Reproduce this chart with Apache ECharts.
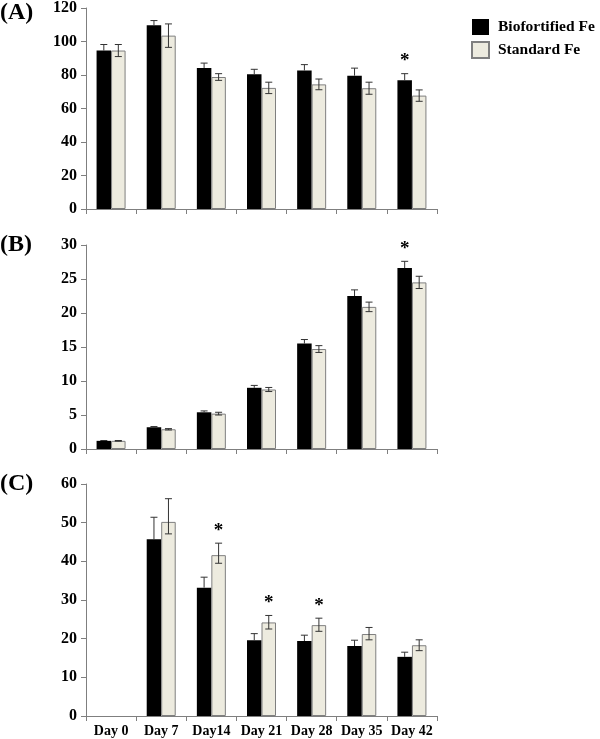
<!DOCTYPE html>
<html>
<head>
<meta charset="utf-8">
<script src="https://cdn.jsdelivr.net/npm/echarts@6/dist/echarts.min.js"></script>
<style>
html,body{margin:0;padding:0;background:#fff;}
#c{width:600px;height:739px;}
</style>
</head>
<body>
<div id="c"></div>
<script>
// ---- data ----
const categories = ['Day 0', 'Day 7', 'Day14', 'Day 21', 'Day 28', 'Day 35', 'Day 42'];
const seriesNames = ['Biofortified Fe', 'Standard Fe'];
const panelLabels = ['(A)', '(B)', '(C)'];

const bioA = [94.6, 109.7, 84.2, 80.4, 82.7, 79.6, 76.9];
const bioAErr = [3.6, 2.8, 2.9, 3.0, 3.5, 4.5, 3.9];
const stdA = [94.6, 103.5, 78.8, 72.3, 74.4, 72.1, 67.7];
const stdAErr = [3.6, 7.0, 2.0, 3.4, 3.2, 3.6, 3.4];

const bioB = [1.2, 3.2, 5.4, 9.0, 15.5, 22.5, 26.6];
const bioBErr = [0.05, 0.1, 0.2, 0.35, 0.6, 0.9, 1.0];
const stdB = [1.2, 2.9, 5.2, 8.75, 14.7, 20.9, 24.5];
const stdBErr = [0.05, 0.1, 0.2, 0.3, 0.5, 0.7, 0.9];

const bioC = [null, 45.7, 33.2, 19.6, 19.4, 18.1, 15.3];
const bioCErr = [null, 5.7, 2.7, 1.7, 1.5, 1.5, 1.2];
const stdC = [null, 50.2, 41.6, 24.2, 23.5, 21.2, 18.3];
const stdCErrUp = [null, 6.0, 3.1, 1.8, 1.8, 1.7, 1.4];
const stdCErrDown = [null, 3.1, 2.1, 1.7, 1.6, 1.5, 1.4];

// significance markers: [category index, series index (0 = Biofortified, 1 = Standard)]
const sigA = [[6, 0]];
const sigB = [[6, 0]];
const sigC = [[2, 1], [3, 1], [4, 1]];

const yMax = [120, 30, 60];
const yInterval = [20, 5, 10];

// ---- chart ----
const FONT = '"Liberation Serif", "Times New Roman", serif';
const BAR_W = 14.5;
const grids = [
  {left: 86, width: 351, top: 7, height: 202},
  {left: 86, width: 351, top: 245, height: 204},
  {left: 86, width: 351, top: 484, height: 232}
];
const labelY = [13, 245, 484];

const panels = [
  {bio: bioA, bioUp: bioAErr, bioDown: bioAErr, std: stdA, stdUp: stdAErr, stdDown: stdAErr, sig: sigA},
  {bio: bioB, bioUp: bioBErr, bioDown: bioBErr, std: stdB, stdUp: stdBErr, stdDown: stdBErr, sig: sigB},
  {bio: bioC, bioUp: bioCErr, bioDown: bioCErr, std: stdC, stdUp: stdCErrUp, stdDown: stdCErrDown, sig: sigC}
];

const xAxes = [], yAxes = [], series = [], graphics = [];
panels.forEach((p, i) => {
  xAxes.push({
    type: 'category', gridIndex: i, data: categories,
    axisLine: {lineStyle: {color: '#7f7f7f', width: 1}},
    axisTick: {show: true, length: 5, lineStyle: {color: '#7f7f7f'}},
    axisLabel: {show: i === 2, interval: 0, color: '#000', fontFamily: FONT, fontWeight: 'bold', fontSize: 14, margin: 8},
    splitLine: {show: false}
  });
  yAxes.push({
    type: 'value', gridIndex: i, min: 0, max: yMax[i], interval: yInterval[i],
    axisLine: {show: true, lineStyle: {color: '#7f7f7f', width: 1}},
    axisTick: {show: true, length: 5, lineStyle: {color: '#7f7f7f'}},
    axisLabel: {color: '#000', fontFamily: FONT, fontWeight: 'bold', fontSize: 16, margin: 9},
    splitLine: {show: false}
  });
  series.push({
    name: seriesNames[0], type: 'bar', xAxisIndex: i, yAxisIndex: i,
    data: p.bio, barWidth: BAR_W, barGap: '0%',
    itemStyle: {color: '#000000', borderColor: '#000000', borderWidth: 0},
    z: 2
  });
  series.push({
    name: seriesNames[1], type: 'bar', xAxisIndex: i, yAxisIndex: i,
    data: p.std, barWidth: BAR_W, barGap: '0%',
    itemStyle: {color: '#EDEBDF', borderColor: '#7f7f7f', borderWidth: 1},
    z: 2
  });
  // error bars
  const errData = [];
  [[p.bio, p.bioUp, p.bioDown, -1], [p.std, p.stdUp, p.stdDown, 1]].forEach(([v, up, dn, side]) => {
    v.forEach((val, k) => {
      if (val == null) return;
      errData.push([k, val - dn[k], val + up[k], side, val]);
    });
  });
  series.push({
    type: 'custom', xAxisIndex: i, yAxisIndex: i, data: errData, z: 5, silent: true,
    renderItem: function (params, api) {
      const cat = api.value(0);
      const side = api.value(3);
      const lo = api.coord([cat, api.value(1)]);
      const hi = api.coord([cat, api.value(2)]);
      const mid = api.coord([cat, api.value(4)]);
      const x = lo[0] + side * BAR_W / 2;
      const cap = 3.5;
      const st = {stroke: '#333', lineWidth: 1};
      const children = [
        {type: 'line', shape: {x1: x, y1: side < 0 ? mid[1] : lo[1], x2: x, y2: hi[1]}, style: st},
        {type: 'line', shape: {x1: x - cap, y1: hi[1], x2: x + cap, y2: hi[1]}, style: st}
      ];
      if (side > 0) {
        children.push({type: 'line', shape: {x1: x - cap, y1: lo[1], x2: x + cap, y2: lo[1]}, style: st});
      }
      return {type: 'group', children: children};
    }
  });
  // significance stars
  const starData = p.sig.map(([k, s]) => {
    const v = s === 0 ? p.bio[k] + p.bioUp[k] : p.std[k] + p.stdUp[k];
    return [k, v, s === 0 ? -1 : 1];
  });
  series.push({
    type: 'custom', xAxisIndex: i, yAxisIndex: i, data: starData, z: 6, silent: true,
    renderItem: function (params, api) {
      const c = api.coord([api.value(0), api.value(1)]);
      const x = c[0] + api.value(2) * BAR_W / 2;
      return {type: 'text', style: {
        x: x, y: c[1] - 3, text: '*', textAlign: 'center', textVerticalAlign: 'bottom',
        font: 'bold 19px ' + FONT, fill: '#000'
      }};
    }
  });
  graphics.push({
    type: 'text', x: 0, y: labelY[i],
    style: {text: panelLabels[i], font: 'bold 24px ' + FONT, fill: '#000', textVerticalAlign: 'middle', textAlign: 'left'}
  });
});

const chart = echarts.init(document.getElementById('c'), null, {renderer: 'canvas'});
chart.setOption({
  animation: false,
  backgroundColor: '#fff',
  grid: grids,
  xAxis: xAxes,
  yAxis: yAxes,
  series: series,
  graphic: graphics,
  legend: {
    data: seriesNames, orient: 'vertical', left: 471, top: 19, padding: 0,
    itemWidth: 17, itemHeight: 16, itemGap: 6, icon: 'rect',
    textStyle: {fontFamily: FONT, fontWeight: 'bold', fontSize: 15.5, color: '#000', padding: [0, 0, 0, 4]}
  }
});
</script>
</body>
</html>
